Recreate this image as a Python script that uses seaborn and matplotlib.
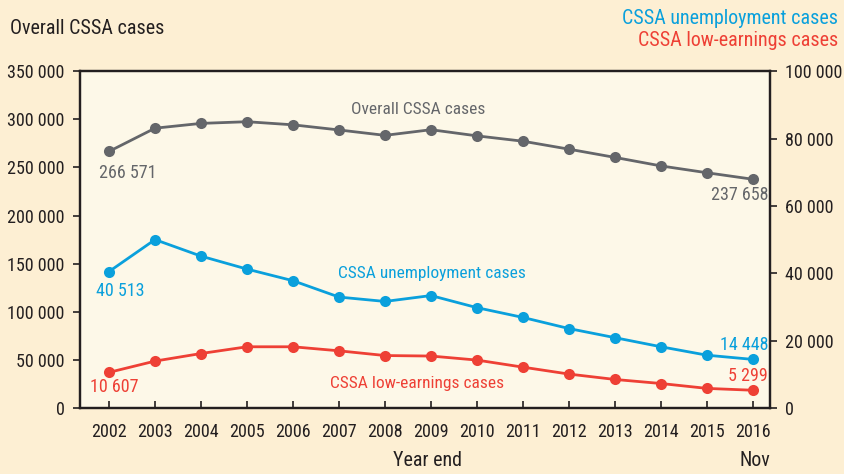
import seaborn as sns
import matplotlib.pyplot as plt
import pandas as pd
from matplotlib import font_manager as fm
from matplotlib.ticker import FuncFormatter

years = list(range(2002, 2017))
overall = [266571, 290705, 295694, 297434, 294208, 288875, 283265, 289139,
           282732, 277170, 268904, 260353, 251519, 244417, 237658]
unemployment = [40513, 50000, 45100, 41250, 37800, 32950, 31650, 33400,
                29800, 26900, 23600, 20900, 18200, 15700, 14448]
low_earnings = [10607, 13950, 16200, 18200, 18200, 17000, 15600, 15450,
                14250, 12150, 10100, 8500, 7300, 5850, 5299]

GREY = "#64666a"
BLUE = "#0aa0dc"
RED = "#ee4035"
INK = "#231f20"

sns.set_style("ticks")

# pick a narrow font if one is around, else plain Liberation Sans a bit smaller
fonts = fm.fontManager.ttflist
names = {f.name for f in fonts}
stretch = "normal"
if "Liberation Sans Narrow" in names:
    fam, fs = "Liberation Sans Narrow", 13.5
elif "Roboto Condensed" in names:
    fam, fs = "Roboto Condensed", 13
elif any(f.name == "DejaVu Sans" and "condensed" in str(f.stretch) for f in fonts):
    fam, fs, stretch = "DejaVu Sans", 12, "condensed"
else:
    fam, fs = "Liberation Sans", 11.5
plt.rcParams['font.family'] = [fam, 'DejaVu Sans']
plt.rcParams['font.stretch'] = stretch
big = fs * 1.11

df = pd.DataFrame({"year": years, "overall": overall,
                   "unemp": unemployment, "low": low_earnings})

fig = plt.figure(figsize=(8.45, 4.74), dpi=100, facecolor="#fdefd3")
ax = fig.add_axes([0.0947, 0.139, 0.8166, 0.711])
ax.set_facecolor("#fdf8e8")
ax2 = ax.twinx()

sns.lineplot(data=df, x="year", y="overall", ax=ax, color=GREY, marker="o",
             markersize=8, markeredgewidth=0, linewidth=2)
sns.lineplot(data=df, x="year", y="unemp", ax=ax2, color=BLUE, marker="o",
             markersize=8, markeredgewidth=0, linewidth=2)
sns.lineplot(data=df, x="year", y="low", ax=ax2, color=RED, marker="o",
             markersize=8, markeredgewidth=0, linewidth=2)

fmt = FuncFormatter(lambda v, p: f"{int(v):,}".replace(",", " "))
ax.set_ylim(0, 350000)
ax2.set_ylim(0, 100000)
ax.set_xlim(2001.37, 2016.37)
ax.set_xticks(years)
ax.set_yticks(range(0, 350001, 50000))
ax2.set_yticks(range(0, 100001, 20000))
ax.yaxis.set_major_formatter(fmt)
ax2.yaxis.set_major_formatter(fmt)
ax.set_xlabel("")
ax.set_ylabel("")
ax2.set_ylabel("")

for a in (ax, ax2):
    for s in a.spines.values():
        s.set_linewidth(1.6)
        s.set_color(INK)
ax.tick_params(axis="y", direction="out", length=5, width=1.2, colors=INK,
               labelsize=fs, pad=6)
ax2.tick_params(axis="y", direction="out", length=5, width=1.2, colors=INK,
                labelsize=fs, pad=6)
ax.tick_params(axis="x", direction="in", length=5, width=1.2, colors=INK,
               labelsize=fs, pad=11)

# axis titles
fig.text(10 / 845, 1 - 28 / 474, "Overall CSSA cases", fontsize=big, color=INK,
         ha="left", va="center")
fig.text(838 / 845, 1 - 19 / 474, "CSSA unemployment cases", fontsize=big,
         color=BLUE, ha="right", va="center")
fig.text(838 / 845, 1 - 41 / 474, "CSSA low-earnings cases", fontsize=big,
         color=RED, ha="right", va="center")
fig.text(428 / 845, 1 - 461 / 474, "Year end", fontsize=big, color=INK,
         ha="center", va="center")
fig.text(755 / 845, 1 - 461 / 474, "Nov", fontsize=big, color=INK,
         ha="center", va="center")

# series labels
ax.text(2008.72, 310500, "Overall CSSA cases", color=GREY, fontsize=fs - 0.5,
        ha="center", va="center")
ax2.text(2009.02, 40060, "CSSA unemployment cases", color=BLUE, fontsize=fs - 0.5,
         ha="center", va="center")
ax2.text(2008.7, 7420, "CSSA low-earnings cases", color=RED, fontsize=fs - 0.5,
         ha="center", va="center")

# value labels
ax.text(2002.41, 244070, "266 571", color=GREY, fontsize=fs,
        ha="center", va="center")
ax.text(2016.33, 221200, "237 658", color=GREY, fontsize=fs,
        ha="right", va="center")
ax2.text(2002.24, 34720, "40 513", color=BLUE, fontsize=fs,
         ha="center", va="center")
ax2.text(2016.33, 18700, "14 448", color=BLUE, fontsize=fs,
         ha="right", va="center")
ax2.text(2002.11, 6230, "10 607", color=RED, fontsize=fs,
         ha="center", va="center")
ax2.text(2016.33, 9500, "5 299", color=RED, fontsize=fs,
         ha="right", va="center")

fig.savefig("out.png", dpi=100, facecolor=fig.get_facecolor())
